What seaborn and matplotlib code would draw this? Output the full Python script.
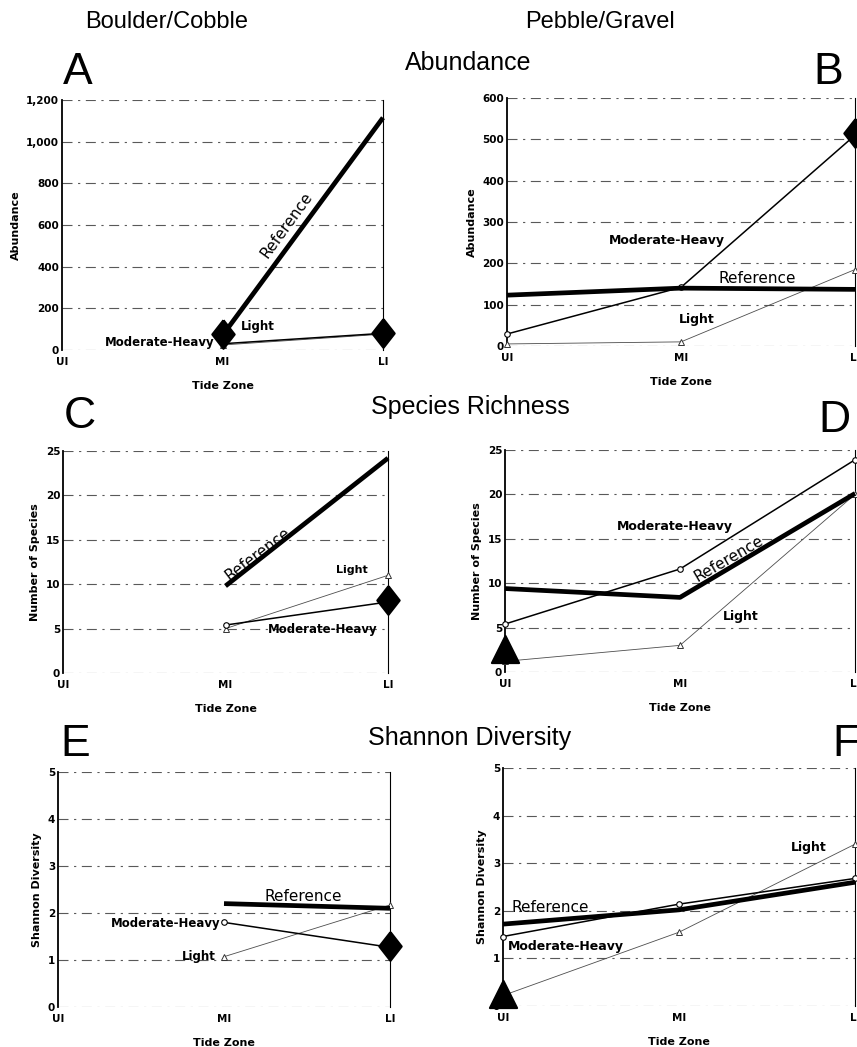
import numpy as np
import pandas as pd
import matplotlib
matplotlib.use("Agg")
import matplotlib.pyplot as plt
from matplotlib.ticker import FuncFormatter
import seaborn as sns

nan = np.nan

# ---- data -----------------------------------------------------------------
zones = ["UI", "MI", "LI"]

abund_bc_ref = [nan, 70, 1115]
abund_bc_mh = [nan, 30, 80]
abund_bc_light = [nan, 24, 76]
abund_bc_mark = [nan, 75, 80]

abund_pg_ref = [123, 140, 137]
abund_pg_mh = [29, 142, 510]
abund_pg_light = [5, 10, 185]
abund_pg_mark = [nan, nan, 515]

rich_bc_ref = [nan, 9.8, 24.2]
rich_bc_mh = [nan, 5.4, 8.0]
rich_bc_light = [nan, 5.0, 11.0]
rich_bc_mark = [nan, nan, 8.2]

rich_pg_ref = [9.4, 8.4, 20.1]
rich_pg_mh = [5.4, 11.6, 23.9]
rich_pg_light = [1.2, 3.0, 20.0]
rich_pg_mark = [2.6, nan, nan]

div_bc_ref = [nan, 2.2, 2.1]
div_bc_mh = [nan, 1.8, 1.27]
div_bc_light = [nan, 1.07, 2.17]
div_bc_mark = [nan, nan, 1.3]

div_pg_ref = [1.72, 2.02, 2.6]
div_pg_mh = [1.46, 2.14, 2.68]
div_pg_light = [0.22, 1.55, 3.4]
div_pg_mark = [0.25, nan, nan]

# ---- style ----------------------------------------------------------------
sns.set_theme(style="white")
plt.rcParams["font.family"] = ["Liberation Sans", "DejaVu Sans"]
plt.rcParams.update({"text.color": "black", "axes.labelcolor": "black",
                     "xtick.color": "black", "ytick.color": "black"})

SMALL = ["DejaVu Sans"]
W, H = 857, 1047
fig = plt.figure(figsize=(W / 100, H / 100), dpi=100)


def box(x0, x1, y0, y1):
    return [x0 / W, 1 - y1 / H, (x1 - x0) / W, (y1 - y0) / H]


diamond = [(0, 1), (0.78, 0), (0, -1), (-0.78, 0), (0, 1)]


def series_frame(values):
    df = pd.DataFrame({"pos": np.arange(len(zones)), "val": values})
    return df.dropna()


def panel(rect, ref, mh, light, mark, mark_kind, ymax, ystep, ylabel, comma=False):
    ax = fig.add_axes(rect)
    sns.lineplot(data=series_frame(light), x="pos", y="val", ax=ax, color="0.3",
                 lw=0.6, marker="^", ms=4.5, mfc="white", mec="0.2", mew=0.7,
                 clip_on=False, zorder=3)
    sns.lineplot(data=series_frame(mh), x="pos", y="val", ax=ax, color="black",
                 lw=1.1, marker="o", ms=4, mfc="white", mec="black", mew=0.8,
                 clip_on=False, zorder=4)
    sns.lineplot(data=series_frame(ref), x="pos", y="val", ax=ax, color="black",
                 lw=3.4, solid_capstyle="butt", clip_on=False, zorder=5)
    mk = series_frame(mark)
    if mark_kind == "D":
        sns.scatterplot(data=mk, x="pos", y="val", ax=ax, marker=diamond, s=420,
                        color="black", edgecolor="black", clip_on=False, zorder=6)
    else:
        sns.scatterplot(data=mk, x="pos", y="val", ax=ax, marker="^", s=380,
                        color="black", edgecolor="black", clip_on=False, zorder=6)

    ax.set_xlim(0, 2)
    ax.set_ylim(0, ymax)
    ax.set_xticks(range(len(zones)))
    ax.set_xticklabels(zones)
    ax.set_yticks(np.arange(0, ymax + ystep / 2, ystep))
    if comma:
        ax.yaxis.set_major_formatter(FuncFormatter(lambda v, p: f"{int(v):,}"))
    else:
        ax.yaxis.set_major_formatter(FuncFormatter(lambda v, p: f"{int(v)}"))
    for lab in ax.get_xticklabels() + ax.get_yticklabels():
        lab.set_fontfamily(SMALL)
        lab.set_fontweight("bold")
        lab.set_fontsize(7.5)
    ax.tick_params(axis="y", length=0, pad=2)
    ax.tick_params(axis="x", length=0, pad=5)
    ax.set_xlabel("Tide Zone", fontfamily=SMALL, fontweight="bold", fontsize=8,
                  labelpad=10)
    ax.set_ylabel(ylabel, fontfamily=SMALL, fontweight="bold", fontsize=8,
                  labelpad=4)
    ax.yaxis.grid(True, linestyle=(0, (9, 5, 2, 5)), color="0.35", lw=0.8)
    ax.xaxis.grid(False)
    for s in ("top", "bottom"):
        ax.spines[s].set_visible(False)
    ax.spines["left"].set_color("black")
    ax.spines["left"].set_linewidth(1.3)
    ax.spines["right"].set_color("black")
    ax.spines["right"].set_linewidth(0.8)
    ax.set_facecolor("white")
    return ax


def tag(ax, x, y, s, size=9, weight="bold", rot=0, ha="center", fam=SMALL):
    ax.text(x, y, s, fontsize=size, fontweight=weight, rotation=rot, ha=ha,
            va="center", fontfamily=fam, rotation_mode="anchor", zorder=7)


# ---- panels ---------------------------------------------------------------
axA = panel(box(62, 383, 100, 350), abund_bc_ref, abund_bc_mh, abund_bc_light,
            abund_bc_mark, "D", 1200, 200, "Abundance", comma=True)
tag(axA, 1.40, 600, "Reference", size=11, weight="normal", rot=54)
tag(axA, 1.22, 112, "Light", size=8.5)
tag(axA, 0.95, 38, "Moderate-Heavy", size=8.5, ha="right")

axB = panel(box(507, 855, 98, 346), abund_pg_ref, abund_pg_mh, abund_pg_light,
            abund_pg_mark, "D", 600, 100, "Abundance")
tag(axB, 0.92, 256, "Moderate-Heavy", size=9)
tag(axB, 1.44, 163, "Reference", size=11, weight="normal")
tag(axB, 1.09, 63, "Light", size=9)

axC = panel(box(63, 388, 451, 673), rich_bc_ref, rich_bc_mh, rich_bc_light,
            rich_bc_mark, "D", 25, 5, "Number of Species")
tag(axC, 1.20, 13.4, "Reference", size=11, weight="normal", rot=37)
tag(axC, 1.78, 11.6, "Light", size=8)
tag(axC, 1.60, 4.9, "Moderate-Heavy", size=8.5)

axD = panel(box(505, 855, 450, 672), rich_pg_ref, rich_pg_mh, rich_pg_light,
            rich_pg_mark, "^", 25, 5, "Number of Species")
tag(axD, 0.97, 16.4, "Moderate-Heavy", size=9)
tag(axD, 1.28, 12.8, "Reference", size=11, weight="normal", rot=30)
tag(axD, 1.35, 6.3, "Light", size=9)

axE = panel(box(58, 390, 772, 1007), div_bc_ref, div_bc_mh, div_bc_light,
            div_bc_mark, "D", 5, 1, "Shannon Diversity")
tag(axE, 1.48, 2.36, "Reference", size=11, weight="normal")
tag(axE, 0.98, 1.78, "Moderate-Heavy", size=8.5, ha="right")
tag(axE, 0.95, 1.08, "Light", size=8.5, ha="right")

axF = panel(box(503, 855, 768, 1006), div_pg_ref, div_pg_mh, div_pg_light,
            div_pg_mark, "^", 5, 1, "Shannon Diversity")
tag(axF, 0.05, 2.06, "Reference", size=11, weight="normal", ha="left")
tag(axF, 0.03, 1.26, "Moderate-Heavy", size=9, ha="left")
tag(axF, 1.74, 3.32, "Light", size=9)

# ---- headings -------------------------------------------------------------
def ftext(x, y, s, size, **kw):
    fig.text(x / W, 1 - y / H, s, fontsize=size, ha="center", va="center", **kw)


ftext(167, 22, "Boulder/Cobble", 17)
ftext(600, 22, "Pebble/Gravel", 17)
ftext(468, 63, "Abundance", 18)
ftext(470, 407, "Species Richness", 18)
ftext(470, 738, "Shannon Diversity", 18)
for x, y, s in [(78, 72, "A"), (828, 72, "B"), (80, 417, "C"), (834, 420, "D"),
                (75, 745, "E"), (846, 745, "F")]:
    ftext(x, y, s, 32)

fig.savefig("out.png", dpi=100, facecolor="white")
